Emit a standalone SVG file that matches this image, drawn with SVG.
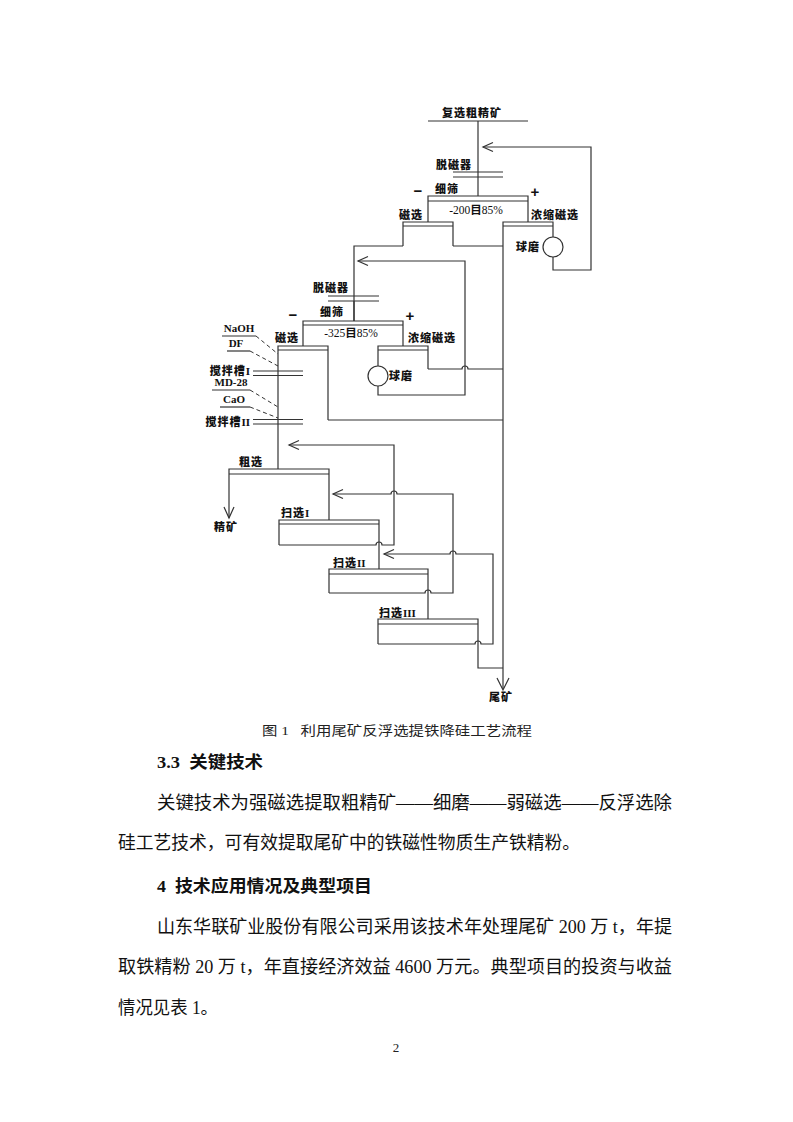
<svg xmlns="http://www.w3.org/2000/svg" width="793" height="1122" viewBox="0 0 793 1122">
<style>
.ln{fill:none;stroke:#333;stroke-width:1.2}
.ds{fill:none;stroke:#333;stroke-width:1;stroke-dasharray:4 3}
.lb{font-family:"Noto Sans CJK SC",sans-serif;font-weight:900;font-size:11px;fill:#111;letter-spacing:1px}
.rn{font-family:"Liberation Serif",serif;font-weight:bold;font-size:11px;fill:#111;letter-spacing:0}
.sv{font-family:"Liberation Serif","Noto Sans CJK SC",serif;font-size:11.5px;fill:#111}
.pm{font-family:"Liberation Sans",sans-serif;font-weight:bold;font-size:15px;fill:#111}
.cap{font-family:"Liberation Serif","Noto Sans CJK SC",serif;font-size:13px;fill:#222}
.h{font-family:"Liberation Serif","Noto Sans CJK SC",serif;font-weight:bold;font-size:17px;fill:#111}
.p{font-family:"Liberation Serif","Noto Sans CJK SC",serif;font-size:18px;fill:#111}
</style>
<rect width="793" height="1122" fill="#fff"/>

<g id="connectors">
  <line class="ln" x1="428" y1="121" x2="528" y2="121"/>
  <line class="ln" x1="478" y1="121" x2="478" y2="196"/>
  <path class="ln" d="M483,147 H591 V270 H553 V257"/>
  <polyline class="ln" points="493,142.5 483,147 493,151.5"/>
  <path class="ln" d="M354,321 V246 H403"/>
  <path class="ln" d="M453,246 H503"/>
  <path class="ln" d="M358,261 H465 V395 H378 V386"/>
  <polyline class="ln" points="368,256.5 358,261 368,265.5"/>
  <path class="ln" d="M428,369 H462 a3,3 0 0 1 6,0 H503"/>
  <path class="ln" d="M328,420 H503"/>
  <line class="ln" x1="503" y1="226" x2="503" y2="689"/>
  <polyline class="ln" points="497,678 503,690 509,678"/>
  <line class="ln" x1="278" y1="350" x2="278" y2="469"/>
  <line class="ln" x1="229" y1="474" x2="229" y2="518"/>
  <polyline class="ln" points="224,507 229,518 234,507"/>
  <path class="ln" d="M289,445 H394 V545 H382 a3,3 0 0 0 -6,0 H279"/>
  <polyline class="ln" points="299,440.5 289,445 299,449.5"/>
  <path class="ln" d="M333,494 H391 a3,3 0 0 1 6,0 H453 V593 H431 a3,3 0 0 0 -6,0 H329"/>
  <polyline class="ln" points="343,489.5 333,494 343,498.5"/>
  <path class="ln" d="M384,554 H450 a3,3 0 0 1 6,0 H493 V644 H481 a3,3 0 0 0 -6,0 H378"/>
  <polyline class="ln" points="394,549.5 384,554 394,558.5"/>
  <path class="ln" d="M478,644 V668 H503"/>
  <path class="ds" d="M256,336 L278,354 M250,351 L278,366 M250,390 L278,407 M250,407 L278,418"/>
</g>

<g id="feed">
  <text class="lb" x="472" y="117" text-anchor="middle" letter-spacing="1.5">复选粗精矿</text>
</g>

<g id="demag1">
  <text class="lb" x="454" y="169" text-anchor="middle">脱磁器</text>
  <line class="ln" x1="453" y1="172" x2="503" y2="172"/>
  <line class="ln" x1="453" y1="177" x2="503" y2="177"/>
</g>

<g id="screen1">
  <text class="lb" x="447" y="193" text-anchor="middle" letter-spacing="3">细筛</text>
  <text class="pm" x="418" y="196" text-anchor="middle">−</text>
  <text class="pm" x="535" y="197" text-anchor="middle">+</text>
  <path class="ln" d="M428,222 V196 H528 V222"/>
  <line class="ln" x1="428" y1="201" x2="528" y2="201"/>
  <text class="sv" x="476" y="214" text-anchor="middle">-200<tspan font-weight="bold">目</tspan>85%</text>
</g>

<g id="magsep1">
  <text class="lb" x="411" y="219" text-anchor="middle">磁选</text>
  <path class="ln" d="M403,246 V222 H453 V246"/>
  <line class="ln" x1="403" y1="226" x2="453" y2="226"/>
</g>

<g id="concmag1">
  <text class="lb" x="555" y="219" text-anchor="middle">浓缩磁选</text>
  <path class="ln" d="M503,226 V222 H553 V237"/>
  <line class="ln" x1="503" y1="226" x2="553" y2="226"/>
</g>

<g id="mill1">
  <circle class="ln" cx="553" cy="247" r="10"/>
  <text class="lb" x="528" y="251" text-anchor="middle">球磨</text>
</g>

<g id="demag2">
  <text class="lb" x="331" y="292" text-anchor="middle">脱磁器</text>
  <line class="ln" x1="328" y1="296" x2="379" y2="296"/>
  <line class="ln" x1="328" y1="301" x2="379" y2="301"/>
</g>

<g id="screen2">
  <text class="lb" x="332" y="316" text-anchor="middle" letter-spacing="3">细筛</text>
  <text class="pm" x="293" y="320" text-anchor="middle">−</text>
  <text class="pm" x="410" y="321" text-anchor="middle">+</text>
  <line class="ln" x1="354" y1="301" x2="354" y2="321"/>
  <path class="ln" d="M303,346 V321 H403 V346"/>
  <line class="ln" x1="303" y1="325" x2="403" y2="325"/>
  <text class="sv" x="351" y="337" text-anchor="middle">-325<tspan font-weight="bold">目</tspan>85%</text>
</g>

<g id="magsep2">
  <text class="lb" x="287" y="342" text-anchor="middle">磁选</text>
  <path class="ln" d="M278,350 V346 H328 V420"/>
  <line class="ln" x1="278" y1="350" x2="328" y2="350"/>
</g>

<g id="concmag2">
  <text class="lb" x="432" y="342" text-anchor="middle">浓缩磁选</text>
  <path class="ln" d="M378,366 V346 H428 V369"/>
  <line class="ln" x1="378" y1="350" x2="428" y2="350"/>
</g>

<g id="mill2">
  <circle class="ln" cx="378" cy="376" r="10"/>
  <text class="lb" x="401" y="380" text-anchor="middle">球磨</text>
</g>

<g id="reagents1">
  <text class="rn" x="239" y="332" text-anchor="middle">NaOH</text>
  <line class="ln" x1="222" y1="336" x2="256" y2="336" stroke-width="1"/>
  <text class="rn" x="236" y="347" text-anchor="middle">DF</text>
  <line class="ln" x1="227" y1="351" x2="250" y2="351" stroke-width="1"/>
</g>

<g id="tank1">
  <text class="lb" x="250" y="375" text-anchor="end">搅拌槽<tspan class="rn">I</tspan></text>
  <line class="ln" x1="253" y1="371" x2="303" y2="371"/>
  <line class="ln" x1="253" y1="375.5" x2="303" y2="375.5"/>
</g>

<g id="reagents2">
  <text class="rn" x="231" y="386" text-anchor="middle">MD-28</text>
  <line class="ln" x1="212" y1="390" x2="250" y2="390" stroke-width="1"/>
  <text class="rn" x="234" y="403" text-anchor="middle">CaO</text>
  <line class="ln" x1="220" y1="407" x2="250" y2="407" stroke-width="1"/>
</g>

<g id="tank2">
  <text class="lb" x="250" y="426" text-anchor="end">搅拌槽<tspan class="rn">II</tspan></text>
  <line class="ln" x1="253" y1="419.5" x2="303" y2="419.5"/>
  <line class="ln" x1="253" y1="424" x2="303" y2="424"/>
</g>

<g id="rougher">
  <text class="lb" x="251" y="466" text-anchor="middle">粗选</text>
  <path class="ln" d="M229,474 V469 H329 V520"/>
  <line class="ln" x1="229" y1="474" x2="329" y2="474"/>
</g>

<g id="concentrate">
  <text class="lb" x="226" y="531" text-anchor="middle">精矿</text>
</g>

<g id="scav1">
  <text class="lb" x="281" y="517">扫选<tspan class="rn">I</tspan></text>
  <path class="ln" d="M279,545 V520 H379 V569"/>
  <line class="ln" x1="279" y1="524" x2="379" y2="524"/>
</g>

<g id="scav2">
  <text class="lb" x="333" y="567">扫选<tspan class="rn">II</tspan></text>
  <path class="ln" d="M329,593 V569 H428 V619"/>
  <line class="ln" x1="329" y1="574" x2="428" y2="574"/>
</g>

<g id="scav3">
  <text class="lb" x="379" y="617">扫选<tspan class="rn">III</tspan></text>
  <path class="ln" d="M378,644 V619 H478 V644"/>
  <line class="ln" x1="378" y1="624" x2="478" y2="624"/>
</g>

<g id="tailings">
  <text class="lb" x="501" y="701" text-anchor="middle">尾矿</text>
</g>

<g id="body">
  <text class="cap" x="262" y="735" textLength="270" lengthAdjust="spacingAndGlyphs" xml:space="preserve">图 1   利用尾矿反浮选提铁降硅工艺流程</text>
  <text class="h" x="157" y="768" textLength="106" lengthAdjust="spacingAndGlyphs" xml:space="preserve">3.3  关键技术</text>
  <text class="p" x="157" y="809" textLength="515" lengthAdjust="spacingAndGlyphs">关键技术为强磁选提取粗精矿——细磨——弱磁选——反浮选除</text>
  <text class="p" x="118" y="849" textLength="462" lengthAdjust="spacingAndGlyphs">硅工艺技术，可有效提取尾矿中的铁磁性物质生产铁精粉。</text>
  <text class="h" x="157" y="892" textLength="215" lengthAdjust="spacingAndGlyphs" xml:space="preserve">4  技术应用情况及典型项目</text>
  <text class="p" x="157" y="933" textLength="515" lengthAdjust="spacingAndGlyphs">山东华联矿业股份有限公司采用该技术年处理尾矿 200 万 t，年提</text>
  <text class="p" x="118" y="973" textLength="554" lengthAdjust="spacingAndGlyphs">取铁精粉 20 万 t，年直接经济效益 4600 万元。典型项目的投资与收益</text>
  <text class="p" x="118" y="1014" textLength="100" lengthAdjust="spacingAndGlyphs">情况见表 1。</text>
  <text class="cap" x="396" y="1052" text-anchor="middle" font-size="12">2</text>
</g>
</svg>
